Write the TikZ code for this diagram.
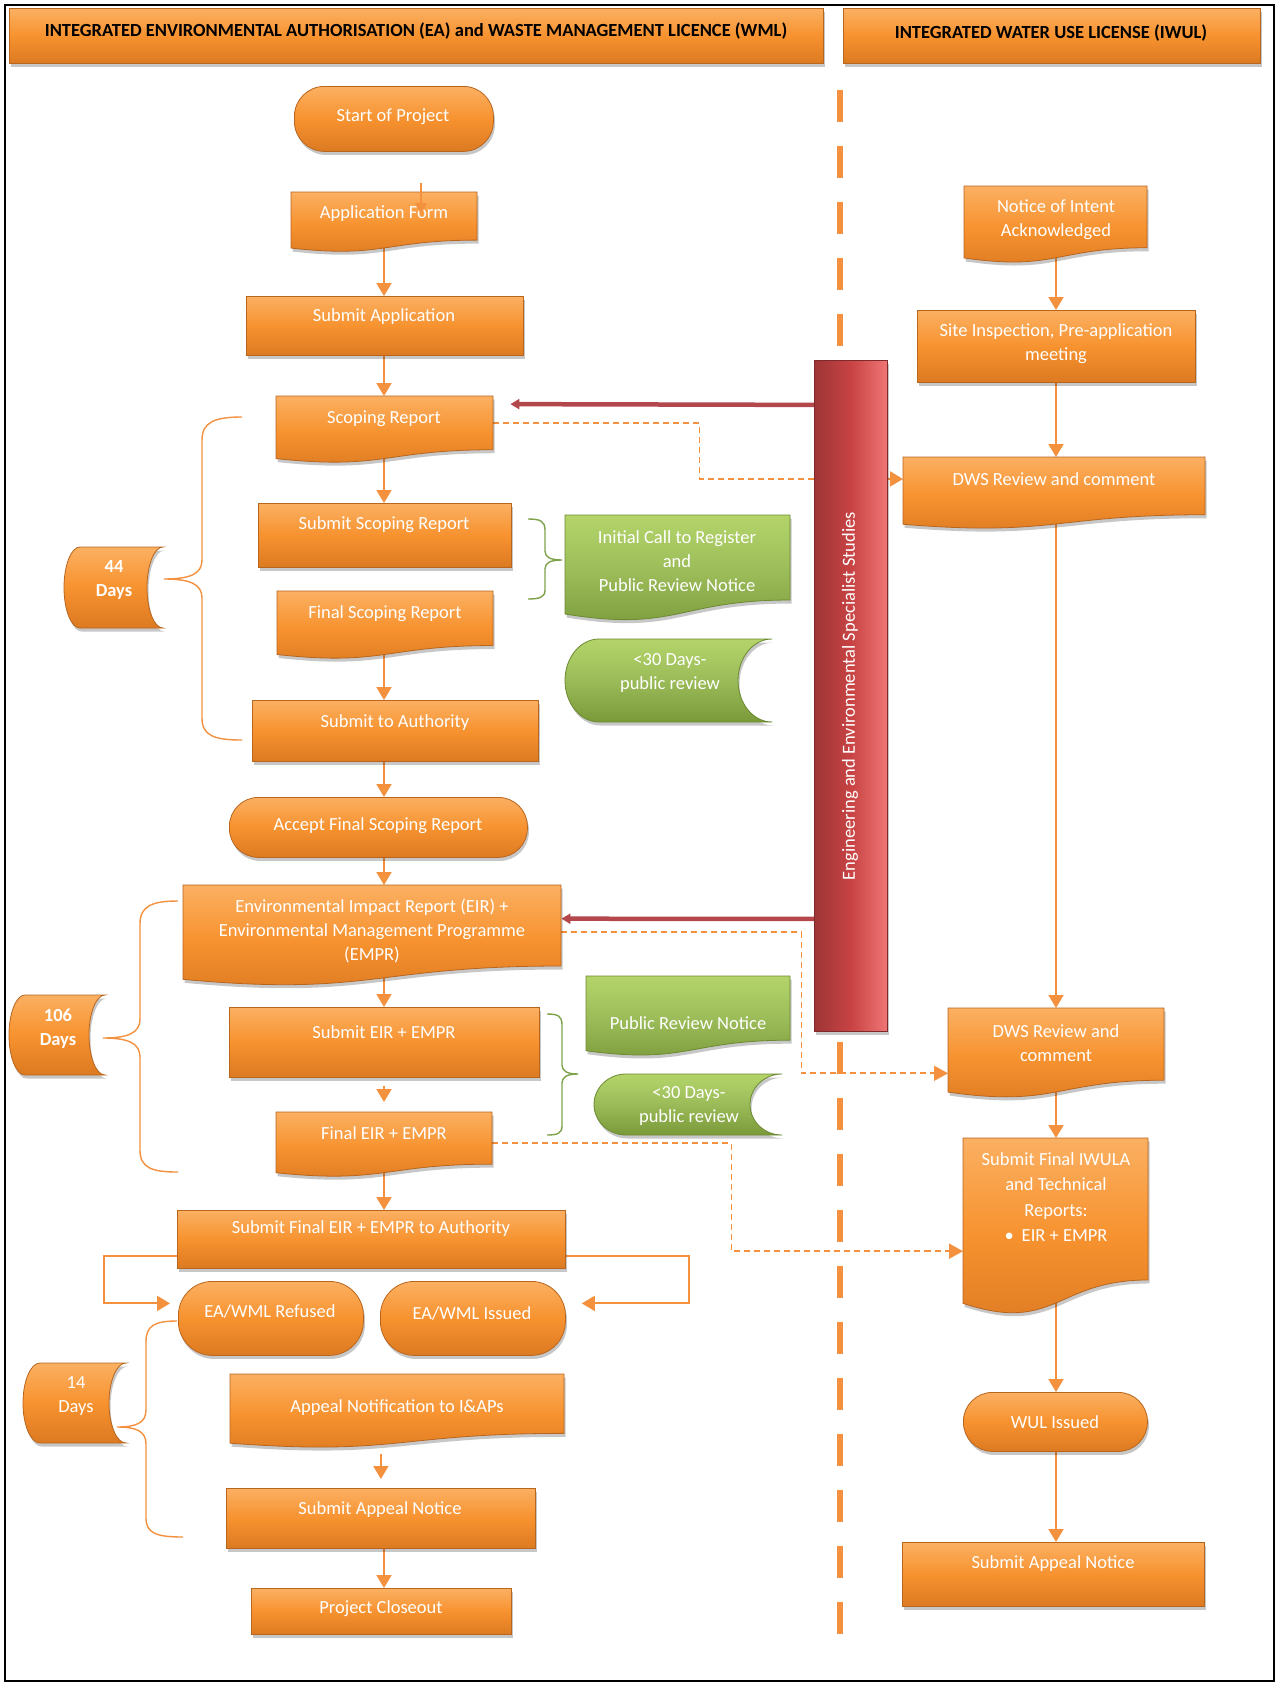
\documentclass[tikz,border=0pt]{standalone}
\usepackage{fontspec}
\setmainfont{Carlito}
\usetikzlibrary{arrows.meta,shadows}
\pgfdeclarelayer{bg}
\pgfsetlayers{bg,main}
\definecolor{oTop}{HTML}{FBB062}
\definecolor{oMid}{HTML}{F7922F}
\definecolor{oBot}{HTML}{DC7A22}
\definecolor{oEdge}{HTML}{B8651E}
\definecolor{oLine}{HTML}{F4913F}
\definecolor{gTop}{HTML}{B4D46A}
\definecolor{gMid}{HTML}{9BBB59}
\definecolor{gBot}{HTML}{7A9A3A}
\definecolor{gEdge}{HTML}{6B8A31}
\definecolor{gLine}{HTML}{7EA24A}
\definecolor{rL}{HTML}{9E3536}
\definecolor{rM}{HTML}{C84343}
\definecolor{rR}{HTML}{F07575}
\definecolor{rLine}{HTML}{B3474C}
\tikzset{
 shad/.style={drop shadow={shadow xshift=1.5pt, shadow yshift=-3.5pt, opacity=0.22, fill=black}},
 obox/.style={top color=oTop, bottom color=oBot, middle color=oMid, draw=oEdge, line width=0.8pt, shad},
 gbox/.style={top color=gTop, bottom color=gBot, middle color=gMid, draw=gEdge, line width=0.8pt, shad},
 rbox/.style={left color=rL, right color=rR, middle color=rM, draw=rL!80!black, line width=0.8pt, shad},
 txt/.style={text=white, font=\fontsize{18.5}{24}\selectfont, align=center, inner sep=0pt},
 htxt/.style={text=black, font=\fontsize{18.5}{22}\selectfont\bfseries, inner sep=0pt},
 conn/.style={draw=oLine, line width=2pt, -{Triangle[width=15pt,length=13pt]}},
 dconn/.style={draw=oLine, line width=1.8pt, dash pattern=on 6pt off 4pt, -{Triangle[width=15pt,length=14pt]}},
 dline/.style={draw=oLine, line width=1.8pt, dash pattern=on 6pt off 4pt},
 rconn/.style={draw=rLine, line width=4.5pt, -{Triangle[width=10pt,length=9pt]}},
 obrace/.style={draw=oLine, line width=1.4pt},
 gbrace/.style={draw=gLine, line width=1.4pt},
}
% rectangle-like box: name, x1, y1, x2, y2, style
\newcommand\RBox[6]{\node[#6, anchor=north west, inner sep=0pt, minimum width={(#4)-(#2)}, minimum height={(#5)-(#3)}] (#1) at (#2,#3) {};}
% document shape: name, x1, y1, x2, h, style
\newcommand\DBox[6]{%
 \path[#6] (#2,#3) -- (#4,#3) -- (#4,{#3+0.802*#5}) .. controls ({0.5*(#2+#4)},{#3+0.802*#5}) and ({0.5*(#2+#4)},{#3+1.107*#5}) .. (#2,{#3+0.934*#5}) -- cycle;
 \node[anchor=north west, inner sep=0pt, minimum width={(#4)-(#2)}, minimum height={0.802*#5}] (#1) at (#2,#3) {};}
% stored data shape: name, x1, y1, x2, y2, d, style
\newcommand\SBox[7]{%
 \path[#7] ({#2+#6},#3) -- (#4,#3)
   .. controls ({#4-0.552*#6},#3) and ({#4-#6},{#3+0.224*(#5-#3)}) .. ({#4-#6},{0.5*(#3+#5)})
   .. controls ({#4-#6},{#5-0.224*(#5-#3)}) and ({#4-0.552*#6},#5) .. (#4,#5)
   -- ({#2+#6},#5)
   .. controls ({#2+0.448*#6},#5) and (#2,{#5-0.224*(#5-#3)}) .. (#2,{0.5*(#3+#5)})
   .. controls (#2,{#3+0.224*(#5-#3)}) and ({#2+0.448*#6},#3) .. ({#2+#6},#3) -- cycle;
 \node[anchor=north west, inner sep=0pt, minimum width={(#4)-(#2)}, minimum height={(#5)-(#3)}] (#1) at (#2,#3) {};}
\begin{document}
\begin{tikzpicture}[x=1pt,y=-1pt]
\begin{pgfonlayer}{bg}
\fill[white] (0,0) rectangle (1283,1686);
\end{pgfonlayer}
\useasboundingbox (0,0) rectangle (1283,1686);
\draw[black, line width=2.5pt] (5,5) rectangle (1274,1681);

% headers
\RBox{h1}{9}{8}{823}{63}{obox}
\node[htxt] (h1-t) at (416,31) {INTEGRATED ENVIRONMENTAL AUTHORISATION (EA) and WASTE MANAGEMENT LICENCE (WML)};
\RBox{h2}{843}{8}{1260}{63}{obox}
\node[htxt] (h2-t) at (1051,33) {INTEGRATED WATER USE LICENSE (IWUL)};

% left column
\RBox{start}{294}{86}{493}{151}{obox, rounded corners=30pt}
\node[txt] (start-t) at (393,117) {Start of Project};
\DBox{af}{291}{192}{477}{60}{obox}
\node[txt] (af-t) at (384,214) {Application Form};
\RBox{sa}{246}{296}{523}{355}{obox}
\node[txt] (sa-t) at (384,317) {Submit Application};
\DBox{scop}{276}{396}{493}{67}{obox}
\node[txt] (scop-t) at (384,419) {Scoping Report};
\RBox{ssr}{258}{503}{511}{567}{obox}
\node[txt] (ssr-t) at (384,525) {Submit Scoping Report};
\DBox{fsr}{277}{591}{493}{68}{obox}
\node[txt] (fsr-t) at (385,614) {Final Scoping Report};
\RBox{sta}{252}{700}{538}{761}{obox}
\node[txt] (sta-t) at (395,723) {Submit to Authority};
\RBox{afsr}{229}{797}{527}{857}{obox, rounded corners=29pt}
\node[txt] (afsr-t) at (378,826) {Accept Final Scoping Report};
\DBox{eir}{183}{885}{561}{101}{obox}
\node[txt] (eir-t) at (372,931) {Environmental Impact Report (EIR) +\\Environmental Management Programme\\(EMPR)};
\RBox{seir}{229}{1007}{539}{1077}{obox}
\node[txt] (seir-t) at (384,1032) {Submit EIR + EMPR};
\DBox{feir}{276}{1112}{492}{65}{obox}
\node[txt] (feir-t) at (384,1133) {Final EIR + EMPR};
\RBox{sfa}{177}{1210}{565}{1268}{obox}
\node[txt] (sfa-t) at (371,1229) {Submit Final EIR + EMPR to Authority};
\RBox{ref}{178}{1281}{363}{1355}{obox, rounded corners=34pt}
\node[txt] (ref-t) at (270,1311) {EA/WML Refused};
\RBox{iss}{380}{1281}{565}{1355}{obox, rounded corners=34pt}
\node[txt] (iss-t) at (472,1313) {EA/WML Issued};
\DBox{anot}{230}{1374}{564}{74}{obox}
\node[txt] (anot-t) at (397,1408) {Appeal Notification to I\&APs};
\RBox{san}{226}{1488}{535}{1548}{obox}
\node[txt] (san-t) at (380,1510) {Submit Appeal Notice};
\RBox{pc}{251}{1588}{511}{1634}{obox}
\node[txt] (pc-t) at (381,1609) {Project Closeout};

% day counters
\SBox{d44}{64}{547}{163}{628}{16}{obox}
\node[txt, font=\fontsize{18.5}{24}\selectfont\bfseries] (d44-t) at (114,580) {44\\Days};
\SBox{d106}{9}{995}{105}{1075}{16}{obox}
\node[txt, font=\fontsize{18.5}{24}\selectfont\bfseries] (d106-t) at (58,1029) {106\\Days};
\SBox{d14}{23}{1363}{126}{1443}{17}{obox}
\node[txt] (d14-t) at (76,1396) {14\\Days};

% green boxes
\DBox{icr}{565}{515}{790}{106}{gbox}
\node[txt] (icr-t) at (677,561) {Initial Call to Register\\and\\Public Review Notice};
\SBox{pr1}{565}{639}{772}{722}{34}{gbox}
\node[txt] (pr1-t) at (670,673) {<30 Days-\\public review};
\DBox{prn}{586}{976}{790}{80}{gbox}
\node[txt] (prn-t) at (688,1023) {Public Review Notice};
\SBox{pr2}{594}{1074}{782}{1135}{32}{gbox}
\node[txt] (pr2-t) at (689,1106) {<30 Days-\\public review};

% red studies bar
\RBox{red}{814}{360}{887}{1031}{rbox}
\node[txt, rotate=90] (red-t) at (850,696) {Engineering and Environmental Specialist Studies};

% right column
\DBox{noi}{964}{186}{1147}{77}{obox}
\node[txt] (noi-t) at (1056,220) {Notice of Intent\\Acknowledged};
\RBox{si}{917}{310}{1195}{382}{obox}
\node[txt] (si-t) at (1056,344) {Site Inspection, Pre-application\\meeting};
\DBox{dws1}{903}{457}{1205}{72}{obox}
\node[txt] (dws1-t) at (1054,479) {DWS Review and comment};
\DBox{dws2}{948}{1008}{1164}{90}{obox}
\node[txt] (dws2-t) at (1056,1043) {DWS Review and\\comment};
\DBox{iwula}{963}{1138}{1148}{177}{obox}
\node[txt, font=\fontsize{18.5}{25.5}\selectfont] (iwula-t) at (1056,1197) {Submit Final IWULA\\and Technical\\Reports:\\\textbullet\hspace{8pt}EIR + EMPR};
\RBox{wul}{963}{1392}{1147}{1451}{obox, rounded corners=29pt}
\node[txt] (wul-t) at (1055,1422) {WUL Issued};
\RBox{san2}{902}{1542}{1204}{1606}{obox}
\node[txt] (san2-t) at (1053,1564) {Submit Appeal Notice};

% stray short arrow over Application Form
\coordinate (qa) at (421,183);
\coordinate (qb) at (421,214);
\draw[draw=oLine, line width=1.5pt, -{Triangle[width=12pt,length=11pt]}] (qa) -- (qb);

% braces
\draw[obrace] (242,417) .. controls (215,417) and (202,422) .. (202,440) -- (202,560) .. controls (202,574) and (190,579) .. (164,579) .. controls (190,579) and (202,584) .. (202,598) -- (202,718) .. controls (202,736) and (215,740) .. (242,740);
\draw[obrace] (178,901) .. controls (152,901) and (140,906) .. (140,924) -- (140,1019) .. controls (140,1033) and (128,1038) .. (103,1038) .. controls (128,1038) and (140,1043) .. (140,1057) -- (140,1150) .. controls (140,1168) and (152,1172) .. (178,1172);
\draw[obrace] (177,1321) .. controls (154,1321) and (146,1326) .. (146,1342) -- (146,1410) .. controls (146,1423) and (136,1427) .. (117,1427) .. controls (136,1427) and (146,1431) .. (146,1444) -- (146,1518) .. controls (146,1533) and (156,1537) .. (183,1537);
\draw[gbrace] (528,519) .. controls (540,519) and (545,521) .. (545,530) -- (545,551) .. controls (545,557) and (550,560) .. (562,560) .. controls (550,560) and (545,563) .. (545,569) -- (545,590) .. controls (545,597) and (540,599) .. (528,599);
\draw[gbrace] (547,1014) .. controls (558,1014) and (562,1016) .. (562,1025) -- (562,1065) .. controls (562,1071) and (567,1074) .. (578,1074) .. controls (567,1074) and (562,1077) .. (562,1083) -- (562,1126) .. controls (562,1133) and (558,1135) .. (547,1135);

% connectors (behind the boxes)
\begin{pgfonlayer}{bg}
\coordinate (cL) at (384,0);
\coordinate (cR) at (1056,0);
\coordinate (vtop) at (840,90);
\coordinate (vbot) at (840,1636);
\draw[oLine, line width=6pt, dash pattern=on 32pt off 24pt] (vtop) -- (vbot);

\draw[conn] (af.south -| cL) -- (sa.north -| cL);
\draw[conn] (sa.south -| cL) -- (scop.north -| cL);
\draw[conn] (scop.south -| cL) -- (ssr.north -| cL);
\draw[conn] (fsr.south -| cL) -- (sta.north -| cL);
\draw[conn] (sta.south -| cL) -- (afsr.north -| cL);
\draw[conn] (afsr.south -| cL) -- (eir.north -| cL);
\draw[conn] (eir.south -| cL) -- (seir.north -| cL);
\draw[conn, shorten <=8pt, shorten >=10pt] (seir.south -| cL) -- (feir.north -| cL);
\draw[conn] (feir.south -| cL) -- (sfa.north -| cL);
\draw[conn] ([yshift=-17pt]sfa.west) -- ++(-73,0) |- ([xshift=-8pt,yshift=15pt]ref.west);
\draw[conn] ([yshift=-17pt]sfa.east) -- ++(123,0) |- ([xshift=16pt,yshift=15pt]iss.east);
\draw[conn, shorten <=20pt, shorten >=9pt] (anot.south -| san.north) -- (san.north);
\draw[conn] (san.south -| cL) -- (pc.north -| cL);

\draw[conn] (noi.south -| cR) -- (si.north -| cR);
\draw[conn] (si.south -| cR) -- (dws1.north -| cR);
\draw[conn, line width=1.6pt] (dws1.south -| cR) -- (dws2.north -| cR);
\draw[conn] (dws2.south -| cR) -- (iwula.north -| cR);
\draw[conn] (iwula.south -| cR) -- (wul.north -| cR);
\draw[conn] (wul.south -| cR) -- (san2.north -| cR);

\draw[dline] (scop.east) -- ++(206,0) |- ([yshift=217pt]red.west);
\draw[conn] ([yshift=217pt]red.east) -- ([yshift=7pt]dws1.west);
\draw[dconn] ([yshift=-6pt]eir.east) -- ++(240,0) |- ([yshift=-29pt]dws2.west);
\draw[dconn] ([yshift=-5pt]feir.east) -- ++(239,0) |- ([yshift=-42pt]iwula.west);

\draw[rconn, shorten >=17pt] ([yshift=291pt]red.west) -- ([yshift=19pt]scop.east);
\draw[rconn] ([yshift=-223pt]red.west) -- ([yshift=7pt]eir.east);
\end{pgfonlayer}
\end{tikzpicture}
\end{document}
